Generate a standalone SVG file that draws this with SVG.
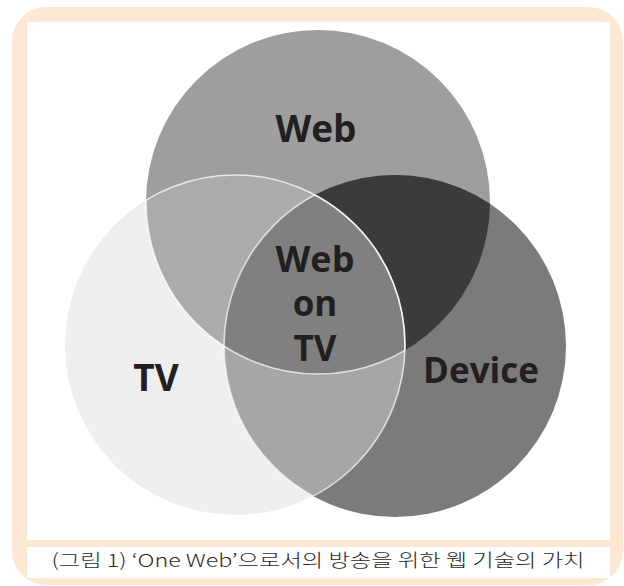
<svg xmlns="http://www.w3.org/2000/svg" width="624" height="586" viewBox="0 0 624 586">
<style>
.lbl{font-family:"Open Sans","DejaVu Sans",sans-serif;font-weight:bold;fill:#231f20;text-anchor:middle}
.edge{fill:none;stroke:#ffffff;stroke-opacity:0.7;stroke-width:1.6}
.cap{font-family:"Noto Sans CJK KR","Noto Sans",sans-serif;font-size:18px;font-weight:300;fill:#2a2a2a;text-anchor:middle}
</style>
<defs>
<clipPath id="cWeb"><circle cx="318" cy="202" r="172"/></clipPath>
<clipPath id="cTV"><circle cx="235" cy="345" r="170"/></clipPath>
<clipPath id="cDev"><circle cx="395" cy="346" r="171"/></clipPath>
</defs>
<rect x="12" y="7" width="611" height="578" rx="34" fill="#fde9d3"/>
<rect x="27" y="22" width="583" height="518" fill="#ffffff"/>
<rect x="27" y="547" width="583" height="31" fill="#ffffff"/>
<g id="web"><circle cx="318" cy="202" r="172" fill="#9e9e9e"/></g>
<g id="tv"><circle cx="235" cy="345" r="170" fill="#efefef"/></g>
<g id="device"><circle cx="395" cy="346" r="171" fill="#7b7b7b"/></g>
<g id="overlaps">
<circle cx="235" cy="345" r="170" fill="#ababab" clip-path="url(#cWeb)"/>
<circle cx="395" cy="346" r="171" fill="#3b3b3b" clip-path="url(#cWeb)"/>
<circle cx="395" cy="346" r="171" fill="#a6a6a6" clip-path="url(#cTV)"/>
<g clip-path="url(#cWeb)"><circle cx="395" cy="346" r="171" fill="#808080" clip-path="url(#cTV)"/></g>
</g>
<g id="edges">
<circle class="edge" cx="235" cy="345" r="170" clip-path="url(#cWeb)"/>
<circle class="edge" cx="235" cy="345" r="170" clip-path="url(#cDev)"/>
<circle class="edge" cx="395" cy="346" r="171" clip-path="url(#cTV)"/>
<circle class="edge" cx="318" cy="202" r="172" clip-path="url(#cTV)"/>
</g>
<g id="labels">
<text class="lbl" x="316" y="142" font-size="37">Web</text>
<text class="lbl" x="315" y="272" font-size="36">Web</text>
<text class="lbl" x="315" y="316" font-size="35">on</text>
<text class="lbl" x="315" y="361" font-size="35">TV</text>
<text class="lbl" x="156" y="391" font-size="37">TV</text>
<text class="lbl" x="481" y="383" font-size="35">Device</text>
</g>
<text class="cap" x="318" y="567" textLength="533" lengthAdjust="spacingAndGlyphs">(그림 1) ‘One Web’으로서의 방송을 위한 웹 기술의 가치</text>
</svg>
